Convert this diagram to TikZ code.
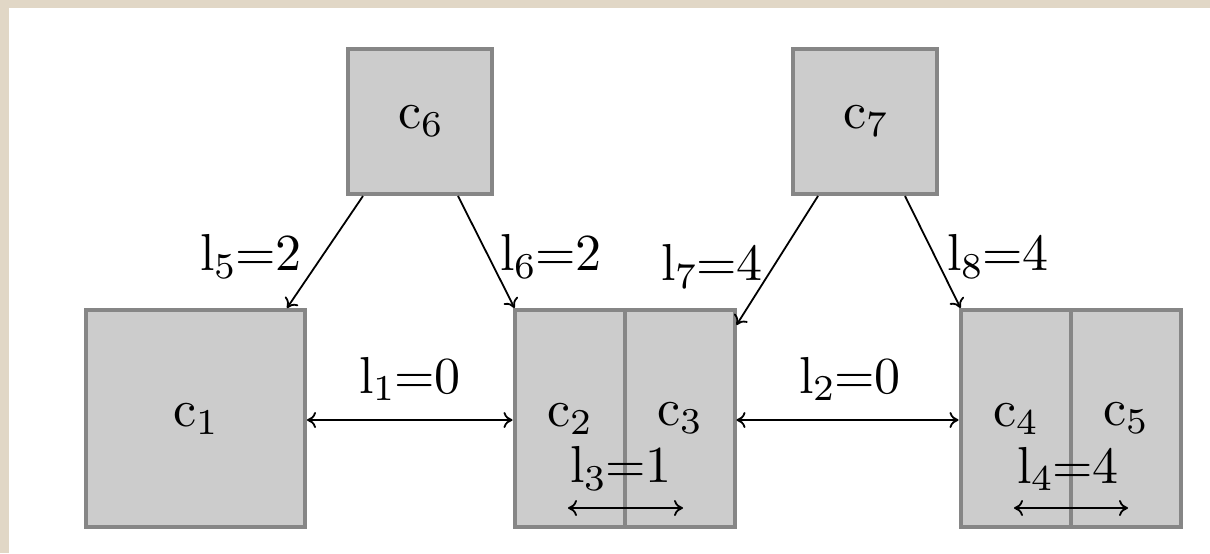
\documentclass[tikz,border=0pt]{standalone}
\usetikzlibrary{calc,arrows.meta}
\definecolor{beige}{HTML}{E1D7C6}
\definecolor{boxborder}{HTML}{868686}
\definecolor{boxfill}{HTML}{CCCCCC}
\newcommand\sbs[1]{\raisebox{-0.15em}{\fontsize{7}{8}\selectfont #1}}
\newcommand\txt[1]{\scalebox{2.6}{\fontsize{10}{12}\selectfont #1}}
\begin{document}
\begin{tikzpicture}[x=0.5pt,y=-0.5pt,
  every node/.style={inner sep=0pt},
  cbox/.style={draw=boxborder, fill=boxfill, line width=2pt, rectangle},
  bigbox/.style={cbox, minimum width=109.5pt, minimum height=108.5pt},
  topbox/.style={cbox, minimum width=72pt, minimum height=72.5pt},
  halfbox/.style={cbox, minimum width=55pt, minimum height=108.5pt},
  conn/.style={-{To[length=4.5pt,width=8pt]}, line width=0.9pt, black},
  dconn/.style={{To[length=4.5pt,width=8pt]}-{To[length=4.5pt,width=8pt]}, line width=0.9pt, black},
  lbl/.style={}]
\useasboundingbox (0,0) rectangle (1210,553);
\fill[beige] (0,0) rectangle (1210,553);
\fill[white] (9,8) rectangle (1210,553);

\node[topbox] (c6) at (420,121.5) {\txt{c\sbs{6}}};
\node[topbox] (c7) at (865,121.5) {\txt{c\sbs{7}}};
\node[bigbox] (c1) at (195.5,418.5) {\txt{c\sbs{1}}};
\node[halfbox] (c2) at (569.5,418.5) {\txt{c\sbs{2}}};
\node[halfbox] (c3) at (679.5,418.5) {\txt{c\sbs{3}}};
\node[halfbox] (c4) at (1015.5,418.5) {\txt{c\sbs{4}}};
\node[halfbox] (c5) at (1125.5,418.5) {\txt{c\sbs{5}}};

\draw[dconn] (c1.east |- 0,420) -- (c2.west |- 0,420);
\draw[dconn] (c3.east |- 0,420) -- (c4.west |- 0,420);

\draw[conn] ([xshift=8.5pt]c6.south west) -- ([xshift=-10pt]c1.north east);
\draw[conn] ([xshift=-18pt]c6.south east) -- ([xshift=1pt]c2.north west);
\draw[conn] ([xshift=13.5pt]c7.south west) -- ([yshift=-8.5pt]c3.north east);
\draw[conn] ([xshift=-17pt]c7.south east) -- ([xshift=1pt]c4.north west);

\coordinate (a3l) at (568,508);
\coordinate (a3r) at (683,508);
\coordinate (a4l) at (1014,508);
\coordinate (a4r) at (1128,508);
\draw[dconn] (a3l) -- (a3r);
\draw[dconn] (a4l) -- (a4r);

\node[lbl] (l1) at (410,379) {\txt{l\sbs{1}=0}};
\node[lbl] (l2) at (850,379) {\txt{l\sbs{2}=0}};
\node[lbl] (l3) at (621,469) {\txt{l\sbs{3}=1}};
\node[lbl] (l4) at (1068,469) {\txt{l\sbs{4}=4}};
\node[lbl] (l5) at (251,257) {\txt{l\sbs{5}=2}};
\node[lbl] (l6) at (551,257) {\txt{l\sbs{6}=2}};
\node[lbl] (l7) at (712,267) {\txt{l\sbs{7}=4}};
\node[lbl] (l8) at (998,257) {\txt{l\sbs{8}=4}};
\end{tikzpicture}
\end{document}
